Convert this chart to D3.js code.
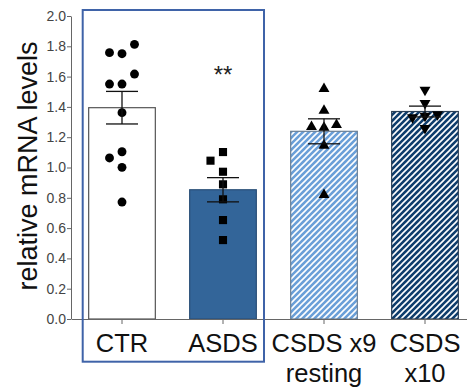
<!DOCTYPE html>
<html>
<head>
<meta charset="utf-8">
<script src="https://cdn.jsdelivr.net/npm/d3@7"></script>
<style>
  body { margin: 0; background: #fff; }
  svg { display: block; font-family: "Liberation Sans", Arial, sans-serif; }
</style>
</head>
<body>
<svg id="chart" width="467" height="392"></svg>
<script>
// Groups and their x labels (one entry per line)
const categories = ['CTR', 'ASDS', 'CSDS x9 resting', 'CSDS x10'];
const labelLines = [['CTR'], ['ASDS'], ['CSDS x9', 'resting'], ['CSDS', 'x10']];

// Individual values per group
const ctrValues = [1.813, 1.758, 1.751, 1.617, 1.551, 1.551, 1.362, 1.104, 1.063, 1.001, 0.772];
const asdsValues = [1.102, 1.045, 0.972, 0.889, 0.790, 0.653, 0.521];
const csds9Values = [1.520, 1.375, 1.281, 1.269, 1.263, 1.144, 0.820];
const csds10Values = [1.512, 1.424, 1.351, 1.340, 1.331, 1.259];

const yTicks = [0, 0.2, 0.4, 0.6, 0.8, 1.0, 1.2, 1.4, 1.6, 1.8, 2.0];
const significance = ['', '**', '', ''];

const groups = categories.map((c, i) => ({
  name: c,
  lines: labelLines[i],
  values: [ctrValues, asdsValues, csds9Values, csds10Values][i],
  sig: significance[i]
}));

// mean +/- SEM
groups.forEach(g => {
  g.mean = d3.mean(g.values);
  g.sem = d3.deviation(g.values) / Math.sqrt(g.values.length);
});

const svg = d3.select('#chart');

const y = d3.scaleLinear().domain([0, 2]).range([319, 16]);
const x = d3.scaleBand()
  .domain(categories)
  .range([71.5, 475.5])
  .paddingInner(0.34)
  .paddingOuter(0.17);

// Hatch patterns for the CSDS bars
const defs = svg.append('defs');
function hatch(id, color) {
  const p = defs.append('pattern')
    .attr('id', id)
    .attr('patternUnits', 'userSpaceOnUse')
    .attr('width', 6)
    .attr('height', 6);
  p.append('rect').attr('width', 6).attr('height', 6).attr('fill', color);
  p.append('path')
    .attr('d', 'M-1,1 L1,-1 M0,6 L6,0 M5,7 L7,5')
    .attr('stroke', '#fff')
    .attr('stroke-width', 1.6);
}
hatch('hatchLight', '#6a9fd8');
hatch('hatchDark', '#0e3d6c');

const fills = ['#ffffff', '#336599', 'url(#hatchLight)', 'url(#hatchDark)'];
const strokes = ['#555', '#2a4f78', '#6a7f95', '#2a3f55'];

// Y axis
const yAxis = svg.append('g')
  .attr('transform', 'translate(71,0)')
  .call(d3.axisLeft(y).tickValues(yTicks).tickFormat(d3.format('.1f')).tickSize(4).tickSizeOuter(0));
yAxis.select('.domain').attr('stroke', '#666');
yAxis.selectAll('.tick line').attr('stroke', '#666');
yAxis.selectAll('.tick text')
  .attr('fill', '#444')
  .attr('font-size', 14)
  .attr('x', -5)
  .attr('font-family', '"Liberation Sans", Arial, sans-serif');

svg.append('text')
  .attr('transform', 'translate(37,166) rotate(-90)')
  .attr('text-anchor', 'middle')
  .attr('font-size', 27)
  .attr('fill', '#111')
  .text('relative mRNA levels');

// Bars
svg.append('g')
  .selectAll('rect')
  .data(groups)
  .join('rect')
  .attr('x', d => x(d.name))
  .attr('y', d => y(d.mean))
  .attr('width', x.bandwidth())
  .attr('height', d => y(0) - y(d.mean))
  .attr('fill', (d, i) => fills[i])
  .attr('stroke', (d, i) => strokes[i])
  .attr('stroke-width', 1.2);

// X axis
const xAxis = svg.append('g')
  .attr('transform', 'translate(0,319)')
  .call(d3.axisBottom(x).tickSize(5).tickSizeOuter(0).tickFormat(''));
xAxis.select('.domain').attr('stroke', '#666');
xAxis.selectAll('.tick line').attr('stroke', '#666');

const labels = svg.append('g')
  .selectAll('text')
  .data(groups)
  .join('text')
  .attr('text-anchor', 'middle')
  .attr('font-size', 25.5)
  .attr('fill', '#111');
labels.selectAll('tspan')
  .data(d => d.lines.map(l => ({ l, cx: x(d.name) + x.bandwidth() / 2 })))
  .join('tspan')
  .attr('x', d => d.cx)
  .attr('y', (d, i) => 352 + i * 30)
  .text(d => d.l);

// Simple beeswarm: place points bottom-up, nudging sideways on overlap
const step = 12.5;
const minDist = 12;
function swarm(values, cx) {
  const placed = [];
  values.slice().sort((a, b) => a - b).forEach(v => {
    const py = y(v);
    for (let k = 0; k < 20; k++) {
      const off = k === 0 ? 0 : (k % 2 ? -1 : 1) * Math.ceil(k / 2) * step;
      const px = cx + off;
      if (placed.every(p => Math.hypot(p.x - px, p.y - py) >= minDist)) {
        placed.push({ x: px, y: py });
        break;
      }
    }
  });
  return placed;
}

const symbols = [
  d3.symbol().type(d3.symbolCircle).size(62),
  d3.symbol().type(d3.symbolSquare).size(66),
  d3.symbol().type(d3.symbolTriangle).size(52),
  d3.symbol().type(d3.symbolTriangle).size(52)
];

groups.forEach((g, i) => {
  const cx = x(g.name) + x.bandwidth() / 2;
  const pts = swarm(g.values, cx);

  svg.append('g')
    .selectAll('path')
    .data(pts)
    .join('path')
    .attr('d', symbols[i])
    .attr('transform', d => `translate(${d.x},${d.y})${i === 3 ? ' rotate(180)' : ''}`)
    .attr('fill', '#000');

  // Error bar (mean +/- SEM)
  const eb = svg.append('g').attr('stroke', '#111').attr('stroke-width', 1.3);
  eb.append('line')
    .attr('x1', cx).attr('x2', cx)
    .attr('y1', y(g.mean + g.sem)).attr('y2', y(g.mean - g.sem));
  [g.mean + g.sem, g.mean - g.sem].forEach(v => {
    eb.append('line')
      .attr('x1', cx - 16).attr('x2', cx + 16)
      .attr('y1', y(v)).attr('y2', y(v));
  });

  if (g.sig) {
    svg.append('text')
      .attr('x', cx)
      .attr('y', 83)
      .attr('text-anchor', 'middle')
      .attr('font-size', 24)
      .attr('fill', '#222')
      .text(g.sig);
  }
});

// Blue frame around CTR and ASDS
svg.append('rect')
  .attr('x', 82.7)
  .attr('y', 10)
  .attr('width', 181.3)
  .attr('height', 351.7)
  .attr('fill', 'none')
  .attr('stroke', '#3f63a8')
  .attr('stroke-width', 2);
</script>
</body>
</html>
